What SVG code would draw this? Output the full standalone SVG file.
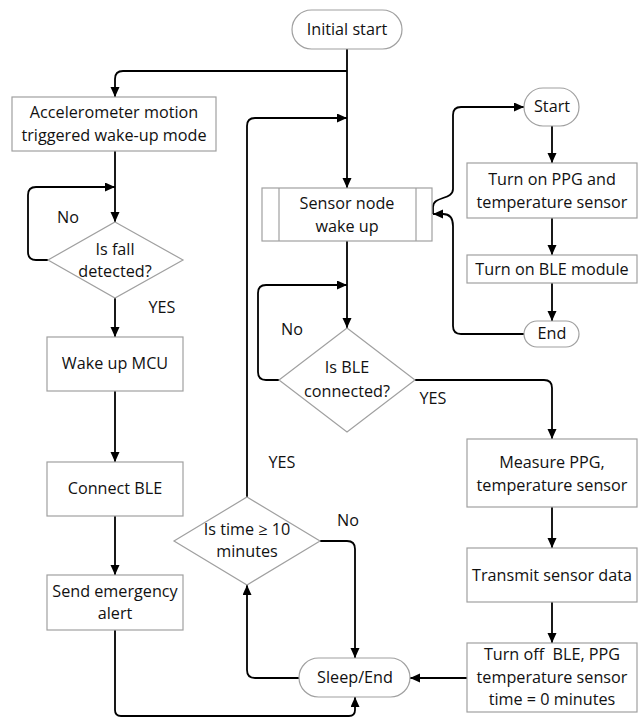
<svg xmlns="http://www.w3.org/2000/svg" width="638" height="718" viewBox="0 0 638 718">
<defs>
<marker id="ah" markerUnits="userSpaceOnUse" markerWidth="11" markerHeight="10" refX="10" refY="4.5" orient="auto" viewBox="0 0 11 10">
<path d="M0,0 L10,4.5 L0,9 z" fill="#000"/>
</marker>
</defs>
<style>
.box{fill:#fff;stroke:#a0a0a0;stroke-width:1.2}
.t{font-family:"Open Sans","Liberation Sans",sans-serif;font-size:16.2px;fill:#111;text-anchor:middle}
.c{fill:none;stroke:#000;stroke-width:1.8}
.a{marker-end:url(#ah)}
</style>
<rect width="638" height="718" fill="#fff"/>
<g id="connectors">
<path class="c a" d="M347,49 L347,188"/>
<path class="c a" d="M347,71 L123,71 Q115,71 115,79 L115,97"/>
<path class="c a" d="M115,151 L115,222"/>
<path class="c a" d="M48,260 L36,260 Q28,260 28,252 L28,195 Q28,187 36,187 L115,187"/>
<path class="c a" d="M115,298 L115,337"/>
<path class="c a" d="M115,391 L115,462"/>
<path class="c a" d="M115,516 L115,575"/>
<path class="c a" d="M115,630 L115,710 Q115,716 121,716 L349,716 Q355,716 355,710 L355,697"/>
<path class="c a" d="M247,497 L247,126 Q247,118 255,118 L347,118"/>
<path class="c a" d="M320,541 L347,541 Q355,541 355,549 L355,658"/>
<path class="c a" d="M299,678 L255,678 Q247,678 247,670 L247,585"/>
<path class="c a" d="M347,241 L347,328"/>
<path class="c a" d="M279,380 L266,380 Q258,380 258,372 L258,293 Q258,285 266,285 L347,285"/>
<path class="c a" d="M415,380 L544,380 Q552,380 552,388 L552,439"/>
<path class="c a" d="M552,507 L552,548"/>
<path class="c a" d="M552,602 L552,643"/>
<path class="c a" d="M467,678 L410,678"/>
<path class="c a" d="M433,214 L433,207 C433,196 453,200 453,189 L453,115 Q453,107 461,107 L524,107"/>
<path class="c a" d="M524,334 L461,334 Q453,334 453,326 L453,226 Q453,214 443,214 L433,214"/>
<path class="c a" d="M552,126 L552,163"/>
<path class="c a" d="M552,218 L552,255"/>
<path class="c a" d="M552,283 L552,321"/>
</g>
<g id="initial-start">
<rect class="box" x="292" y="10" width="110" height="39" rx="19.5"/>
<text class="t" x="347" y="35">Initial start</text>
</g>
<g id="accelerometer">
<rect class="box" x="12" y="97" width="204" height="54"/>
<text class="t" x="114" y="118">Accelerometer motion</text>
<text class="t" x="114" y="141">triggered wake-up mode</text>
</g>
<g id="fall-detected">
<polygon class="box" points="115,222 183,260 115,298 48,260"/>
<text class="t" x="115" y="255">Is fall</text>
<text class="t" x="115" y="277">detected?</text>
</g>
<g id="wake-mcu">
<rect class="box" x="47" y="337" width="136" height="54"/>
<text class="t" x="115" y="369">Wake up MCU</text>
</g>
<g id="connect-ble">
<rect class="box" x="47" y="462" width="136" height="54"/>
<text class="t" x="115" y="494">Connect BLE</text>
</g>
<g id="send-alert">
<rect class="box" x="47" y="575" width="136" height="55"/>
<text class="t" x="115" y="597">Send emergency</text>
<text class="t" x="115" y="619">alert</text>
</g>
<g id="sensor-wake">
<rect class="box" x="262" y="188" width="170" height="53"/>
<line class="box" x1="279" y1="188" x2="279" y2="241"/>
<line class="box" x1="416" y1="188" x2="416" y2="241"/>
<text class="t" x="347" y="209">Sensor node</text>
<text class="t" x="347" y="232">wake up</text>
</g>
<g id="ble-connected">
<polygon class="box" points="347,328 415,380 347,432 279,380"/>
<text class="t" x="347" y="373">Is BLE</text>
<text class="t" x="347" y="397">connected?</text>
</g>
<g id="time-check">
<polygon class="box" points="247,497 320,541 247,585 174,541"/>
<text class="t" x="247" y="535">Is time ≥ 10</text>
<text class="t" x="247" y="557">minutes</text>
</g>
<g id="sleep-end">
<rect class="box" x="299" y="658" width="111" height="39" rx="19.5"/>
<text class="t" x="355" y="683">Sleep/End</text>
</g>
<g id="start">
<rect class="box" x="524" y="88" width="55" height="38" rx="19"/>
<text class="t" x="552" y="112">Start</text>
</g>
<g id="turn-on-ppg">
<rect class="box" x="467" y="163" width="170" height="55"/>
<text class="t" x="552" y="185">Turn on PPG and</text>
<text class="t" x="552" y="208">temperature sensor</text>
</g>
<g id="turn-on-ble">
<rect class="box" x="467" y="255" width="170" height="28"/>
<text class="t" x="552" y="275">Turn on BLE module</text>
</g>
<g id="end">
<rect class="box" x="524" y="321" width="55" height="26" rx="13"/>
<text class="t" x="552" y="339">End</text>
</g>
<g id="measure">
<rect class="box" x="467" y="439" width="170" height="68"/>
<text class="t" x="552" y="468">Measure PPG,</text>
<text class="t" x="552" y="491">temperature sensor</text>
</g>
<g id="transmit">
<rect class="box" x="467" y="548" width="170" height="54"/>
<text class="t" x="552" y="581">Transmit sensor data</text>
</g>
<g id="turn-off">
<rect class="box" x="467" y="643" width="170" height="69"/>
<text class="t" x="552" y="660" xml:space="preserve">Turn off  BLE, PPG</text>
<text class="t" x="552" y="683">temperature sensor</text>
<text class="t" x="552" y="705">time = 0 minutes</text>
</g>
<g id="labels">
<text class="t" x="68" y="223">No</text>
<text class="t" x="162" y="313">YES</text>
<text class="t" x="292" y="335">No</text>
<text class="t" x="433" y="404">YES</text>
<text class="t" x="282" y="468">YES</text>
<text class="t" x="348" y="526">No</text>
</g>
</svg>
